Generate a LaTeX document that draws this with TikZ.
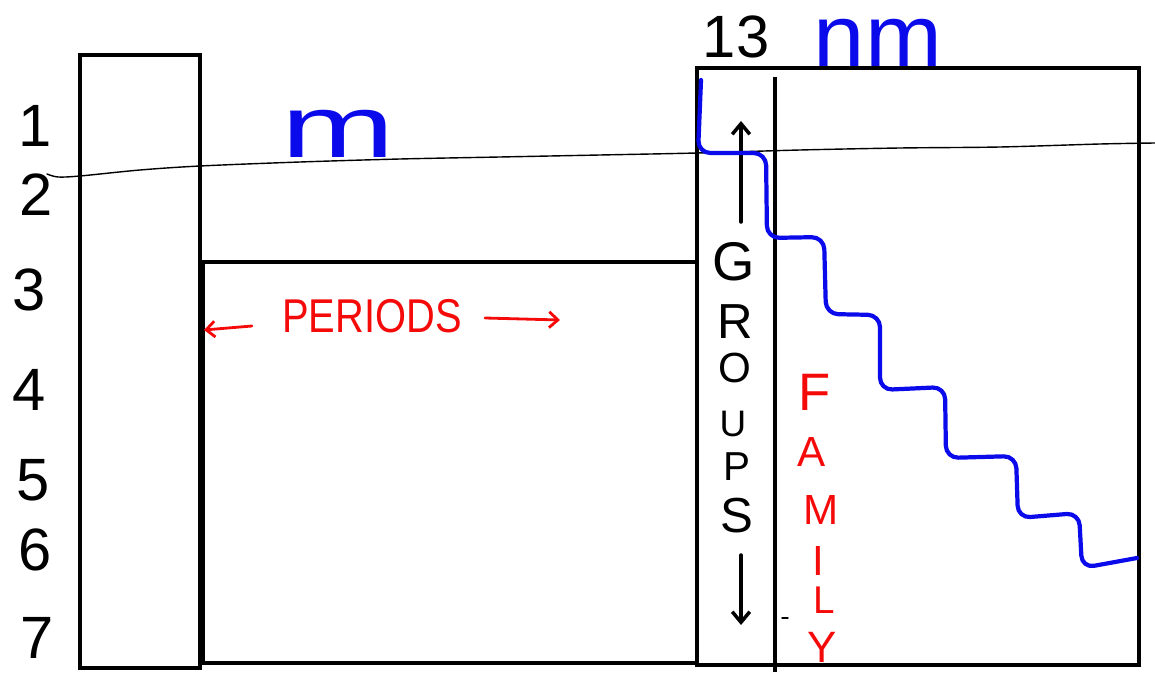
\documentclass[tikz,border=0pt]{standalone}
\usepackage{fontspec}
\setmainfont{Liberation Sans}
\usetikzlibrary{arrows.meta}
\definecolor{inkblue}{RGB}{10,10,235}
\definecolor{inkred}{RGB}{245,10,10}
\newcommand{\fs}[1]{\fontsize{#1}{#1}\selectfont}
\tikzset{
  box/.style={draw=black,line width=2.3pt},
  thinink/.style={draw=black,line width=0.8pt,line cap=round,line join=round},
  digit/.style={font=\fs{34},text=black,inner sep=0pt},
  grp/.style={text=black,inner sep=0pt},
  fam/.style={font=\fs{24},text=inkred,inner sep=0pt},
  blueword/.style={text=inkblue,inner sep=0pt,anchor=base},
  stair/.style={draw=inkblue,line width=2.4pt,line cap=round,line join=round,rounded corners=7pt},
  redarrow/.style={draw=inkred,line width=1.6pt,line cap=round,-{Straight Barb[length=5pt,width=9pt]}},
  blackarrow/.style={draw=black,line width=2pt,line cap=round,-{Straight Barb[length=6pt,width=10pt]}}
}
\begin{document}
\begin{tikzpicture}[x=0.02cm,y=-0.02cm]
\useasboundingbox (0,0) rectangle (1155,675);
% boxes
\draw[box] (80,55) rectangle (200,668);
\draw[box] (203,262) rectangle (697,663);
\draw[box] (697,68) rectangle (1139,665);
\coordinate (colTop) at (775,77);
\coordinate (colBot) at (775,672);
\draw[box] (colTop) -- (colBot);
\draw[thinink] (782,618) -- (788,618);
% thin wavy line
\draw[thinink] plot[smooth] coordinates {(47,174) (58,177) (80,176) (140,170) (200,166) (300,162) (400,159) (500,157) (600,155) (697,153) (800,150) (900,148) (1000,147) (1100,144) (1155,143)};
% period numbers
\node[digit] (n1) at (35,126) {1};
\node[digit] (n2) at (36,195) {2};
\node[digit] (n3) at (29,290) {3};
\node[digit] (n4) at (29,390) {4};
\node[digit] (n5) at (33,480) {5};
\node[digit] (n6) at (35,550) {6};
\node[digit] (n7) at (37,638) {7};
\node[digit] (n13) at (736,37) {13};
% blue words
\node[blueword,font=\fs{50},xscale=1.55] (m) at (338,158) {m};
\node[blueword,font=\fs{50},xscale=1.05] (nm) at (878,67) {nm};
% periods
\node[font=\fs{27},text=inkred,inner sep=2pt,xscale=0.84] (periods) at (372,316) {PERIODS};
\coordinate (pl) at (204,330);
\coordinate (pr) at (560,320);
\draw[redarrow] (252,326) -- (pl);
\draw[redarrow] (485,318) -- (pr);
% groups
\node[grp,font=\fs{31}] (g1) at (734,262) {G};
\node[grp,font=\fs{28}] (g2) at (735,322) {R};
\node[grp,font=\fs{24}] (g3) at (735,368) {O};
\node[grp,font=\fs{21}] (g4) at (733,424) {U};
\node[grp,font=\fs{23}] (g5) at (737,467) {P};
\node[grp,font=\fs{28}] (g6) at (737,516) {S};
\coordinate (gup) at (741,121);
\coordinate (gdown) at (741,625);
\draw[blackarrow] (741,222) -- (gup);
\draw[blackarrow] (741,555) -- (gdown);
% family
\node[fam,font=\fs{30}] (f1) at (815,392) {F};
\node[fam] (f2) at (812,452) {A};
\node[fam] (f3) at (821,510) {M};
\node[fam] (f4) at (818,561) {I};
\node[fam,font=\fs{22}] (f5) at (824,600) {L};
\node[fam,font=\fs{25}] (f6) at (822,647) {Y};
% blue staircase
\draw[stair] (701,80) -- (698,153) -- (766,153) -- (767,238) -- (824,237) -- (826,314) -- (880,315) -- (880,390) -- (945,387) -- (946,458) -- (1016,456) -- (1018,518) -- (1079,513) -- (1082,568) -- (1137,558);
\end{tikzpicture}
\end{document}
